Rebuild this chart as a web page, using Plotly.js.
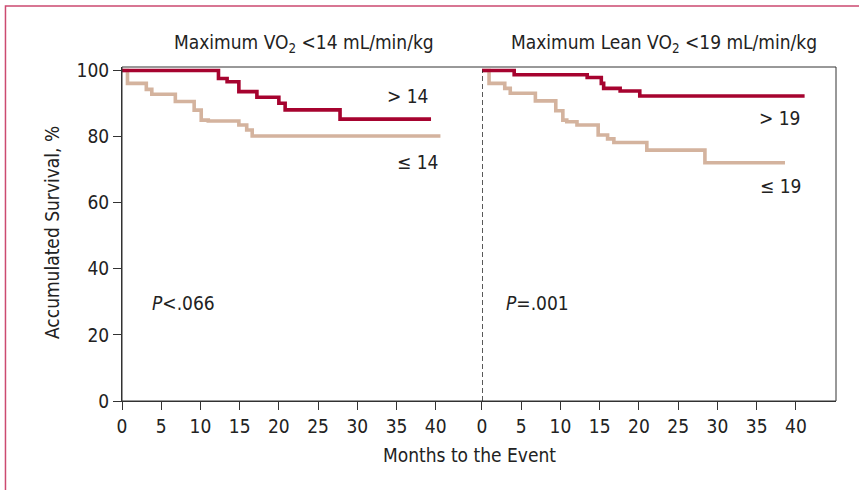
<!DOCTYPE html>
<html>
<head>
<meta charset="utf-8">
<script src="https://cdn.plot.ly/plotly-3.0.1.min.js"></script>
<style>html,body{margin:0;padding:0;background:#fff;}#chart{width:859px;height:490px;}</style>
</head>
<body>
<div id="chart"></div>
<script>
// Left panel: Maximum VO2 (months, survival %)
var leftHighMonths = [0, 12.3, 13.4, 14.9, 17.2, 20.0, 20.8, 27.8, 39.4];
var leftHighSurv   = [100, 97.6, 96.6, 93.6, 91.9, 90.1, 88.1, 85.3, 85.3];
var leftLowMonths  = [0, 0.7, 3.1, 3.8, 6.8, 9.2, 10.1, 11.0, 14.9, 15.9, 16.6, 40.6];
var leftLowSurv    = [100, 96.1, 94.3, 92.8, 90.6, 88.0, 85.0, 84.7, 83.5, 82.0, 80.2, 80.2];
// Right panel: Maximum Lean VO2
var rightHighMonths = [0, 4.1, 13.4, 15.2, 15.5, 17.6, 20.1, 41.1];
var rightHighSurv   = [100, 98.7, 97.9, 96.1, 94.6, 93.8, 92.3, 92.3];
var rightLowMonths  = [0, 0.9, 2.9, 3.6, 6.8, 9.4, 10.3, 10.8, 12.1, 14.8, 16.0, 16.8, 21.0, 28.4, 38.6];
var rightLowSurv    = [100, 96.1, 94.6, 93.1, 90.8, 87.8, 85.0, 84.5, 83.5, 80.5, 79.3, 78.2, 75.9, 72.1, 72.1];

var xTicks = [0, 5, 10, 15, 20, 25, 30, 35, 40];
var yTicks = [0, 20, 40, 60, 80, 100];
var panelTitles = ['Maximum VO<sub>2</sub> &lt;14 mL/min/kg', 'Maximum Lean VO<sub>2</sub> &lt;19 mL/min/kg'];
var groupLabels = ['&gt; 14', '≤ 14', '&gt; 19', '≤ 19'];
var pLabels = ['<i>P</i>&lt;.066', '<i>P</i>=.001'];

var RED = '#A6032F', TAN = '#D4B39E', AX = '#333333';
var FONT = '"DejaVu Sans Condensed", "DejaVu Sans", Arial, sans-serif';
var FS = 19;

function trace(x, y, color, xa) {
  return {x: x, y: y, xaxis: xa, yaxis: 'y', mode: 'lines', type: 'scatter',
          line: {shape: 'hv', color: color, width: 3.6}, hoverinfo: 'skip', showlegend: false};
}
var data = [
  trace(leftLowMonths, leftLowSurv, TAN, 'x'),
  trace(leftHighMonths, leftHighSurv, RED, 'x'),
  trace(rightLowMonths, rightLowSurv, TAN, 'x2'),
  trace(rightHighMonths, rightHighSurv, RED, 'x2')
];

function xax(domain, range) {
  return {domain: domain, range: range, tickvals: xTicks, showline: true, linecolor: AX, linewidth: 1,
          ticks: 'outside', ticklen: 8, tickcolor: AX, showgrid: false, zeroline: false, anchor: 'y',
          tickfont: {family: FONT, size: FS, color: '#222'}};
}
function ann(text, x, y, opts) {
  var a = {text: text, x: x, y: y, xref: 'paper', yref: 'paper', showarrow: false,
           xanchor: 'center', yanchor: 'middle', font: {family: FONT, size: FS, color: '#222'}};
  for (var k in (opts || {})) a[k] = opts[k];
  return a;
}

var layout = {
  width: 859, height: 490,
  margin: {l: 122, r: 23, t: 67, b: 89},
  paper_bgcolor: '#fff', plot_bgcolor: '#fff',
  xaxis: xax([0, 0.5042], [0, 45.9]),
  xaxis2: xax([0.5042, 1], [0, 45.1]),
  yaxis: {range: [0, 101.06], tickvals: yTicks, showline: true, linecolor: AX, linewidth: 1,
          ticks: 'outside', ticklen: 8, tickcolor: AX, showgrid: false, zeroline: false,
          tickfont: {family: FONT, size: FS, color: '#222'}},
  shapes: [
    {type: 'rect', xref: 'paper', yref: 'paper', x0: 0, x1: 1, y0: 0, y1: 1, line: {color: AX, width: 1}},
    {type: 'line', xref: 'x2', yref: 'y', x0: 0, x1: 0, y0: 0, y1: 100, line: {color: '#222', width: 1.5, dash: '5px,3px'}},
    {type: 'rect', xref: 'paper', yref: 'paper', x0: -0.1632, x1: 1.06, y0: -0.3, y1: 1.1826,
     line: {color: '#CC4A70', width: 1.5}}
  ],
  annotations: [
    ann(panelTitles[0], 0.2556, 1.0689),
    ann(panelTitles[1], 0.759, 1.0689),
    ann(groupLabels[0], 0.3999, 0.9132),
    ann(groupLabels[1], 0.4146, 0.7141),
    ann(groupLabels[2], 0.9216, 0.8488),
    ann(groupLabels[3], 0.923, 0.6452),
    ann(pLabels[0], 0.0868, 0.2934),
    ann(pLabels[1], 0.5826, 0.2934),
    ann('Accumulated Survival, %', -0.0973, 0.5045, {textangle: -90}),
    ann('Months to the Event', 0.486, -0.1617)
  ]
};
Plotly.newPlot('chart', data, layout, {displayModeBar: false, staticPlot: true});
</script>
</body>
</html>
